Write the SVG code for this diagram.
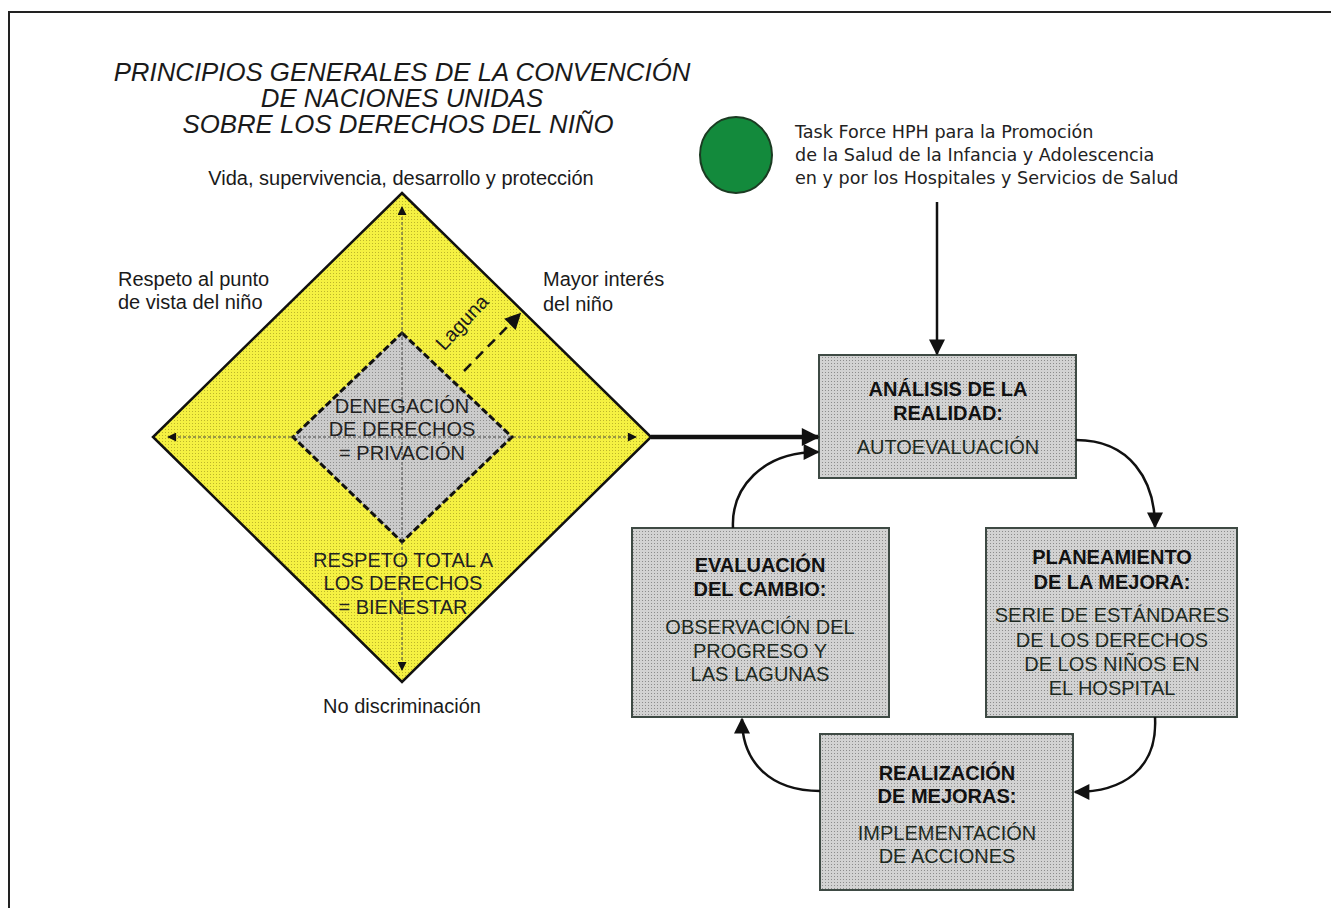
<svg xmlns="http://www.w3.org/2000/svg" width="1331" height="908" viewBox="0 0 1331 908">
<defs>
<style>
.t{font-family:"Liberation Sans",Arial,Helvetica,sans-serif;fill:#1a1a1a}
.title{font-size:25.8px;font-style:italic;text-anchor:middle}
.lbl{font-size:20px}
.mid{text-anchor:middle}
.in{font-size:20px;text-anchor:middle;fill:#222}
.bb{font-size:20px;font-weight:bold;text-anchor:middle;fill:#111}
.br{font-size:20px;text-anchor:middle;fill:#1e2a22}
.box{fill:url(#dotGray);stroke:#3e4a44;stroke-width:2}
.tf{font-family:"DejaVu Sans",sans-serif;font-size:17.6px;fill:#222}
.conn{fill:none;stroke:#111;stroke-width:2.5}
.axis{stroke:#444;stroke-width:1;stroke-dasharray:3 2;fill:none}
</style>
<pattern id="dotGray" width="3" height="3" patternUnits="userSpaceOnUse"><rect width="3" height="3" fill="#d2d2d2"/><rect width="1" height="1" fill="#8c8c8c"/></pattern>
<pattern id="dotInner" width="3" height="3" patternUnits="userSpaceOnUse"><rect width="3" height="3" fill="#cbcbcb"/><rect width="1" height="1" fill="#8e8e8e"/></pattern>
<pattern id="dotYellow" width="3" height="3" patternUnits="userSpaceOnUse"><rect width="3" height="3" fill="#f5f142"/><rect width="1" height="1" fill="#bdb52a"/></pattern>
<marker id="ah" viewBox="0 0 10 10" refX="9" refY="5" markerUnits="userSpaceOnUse" markerWidth="18" markerHeight="16" orient="auto"><path d="M0,0 L10,5 L0,10 z" fill="#111"/></marker>
<marker id="ahBig" viewBox="0 0 10 10" refX="9" refY="5" markerUnits="userSpaceOnUse" markerWidth="22" markerHeight="18" orient="auto"><path d="M0,0 L10,5 L0,10 z" fill="#111"/></marker>
<marker id="ahs" viewBox="0 0 10 10" refX="9" refY="5" markerUnits="userSpaceOnUse" markerWidth="11" markerHeight="9" orient="auto-start-reverse"><path d="M0,0 L10,5 L0,10 z" fill="#111"/></marker>
</defs>
<rect width="1331" height="908" fill="#fff"/>
<path d="M9,908 V12 H1331" fill="none" stroke="#222" stroke-width="2"/>

<g id="title" class="t">
<text class="title" x="402" y="81">PRINCIPIOS GENERALES DE LA CONVENCIÓN</text>
<text class="title" x="402" y="107">DE NACIONES UNIDAS</text>
<text class="title" x="398" y="133">SOBRE LOS DERECHOS DEL NIÑO</text>
</g>

<g id="diamond">
<polygon points="402,193 651,437 402,682 153,437" fill="url(#dotYellow)" stroke="#111" stroke-width="2.5"/>
<polygon points="402,333 512,437 402,542 293,437" fill="url(#dotInner)" stroke="#111" stroke-width="3" stroke-dasharray="7 3"/>
<line class="axis" x1="402" y1="207" x2="402" y2="670" marker-start="url(#ahs)" marker-end="url(#ahs)"/>
<line class="axis" x1="168" y1="437" x2="636" y2="437" marker-start="url(#ahs)" marker-end="url(#ahs)"/>
<line x1="464" y1="371" x2="520" y2="314" stroke="#111" stroke-width="2.5" stroke-dasharray="10 7" marker-end="url(#ah)"/>
<text class="t" font-size="20" text-anchor="middle" transform="translate(467,327) rotate(-47)">Laguna</text>
<text class="t in" x="402" y="413">DENEGACIÓN</text>
<text class="t in" x="402" y="436">DE DERECHOS</text>
<text class="t in" x="402" y="460">= PRIVACIÓN</text>
<text class="t in" x="403" y="567">RESPETO TOTAL A</text>
<text class="t in" x="403" y="590">LOS DERECHOS</text>
<text class="t in" x="403" y="614">= BIENESTAR</text>
</g>

<g id="labels" class="t">
<text class="lbl mid" x="401" y="185">Vida, supervivencia, desarrollo y protección</text>
<text class="lbl" x="118" y="286">Respeto al punto</text>
<text class="lbl" x="118" y="309">de vista del niño</text>
<text class="lbl" x="543" y="286">Mayor interés</text>
<text class="lbl" x="543" y="311">del niño</text>
<text class="lbl mid" x="402" y="713">No discriminación</text>
</g>

<g id="taskforce">
<ellipse cx="736" cy="155" rx="36" ry="38" fill="#138a3c" stroke="#1b3b22" stroke-width="2"/>
<text class="tf" x="795" y="138">Task Force HPH para la Promoción</text>
<text class="tf" x="795" y="161">de la Salud de la Infancia y Adolescencia</text>
<text class="tf" x="795" y="184">en y por los Hospitales y Servicios de Salud</text>
</g>

<g id="analisis">
<rect class="box" x="819" y="355" width="257" height="123"/>
<text class="t bb" x="948" y="396">ANÁLISIS DE LA</text>
<text class="t bb" x="948" y="420">REALIDAD:</text>
<text class="t br" x="948" y="454">AUTOEVALUACIÓN</text>
</g>

<g id="planeamiento">
<rect class="box" x="986" y="528" width="251" height="189"/>
<text class="t bb" x="1112" y="564">PLANEAMIENTO</text>
<text class="t bb" x="1112" y="589">DE LA MEJORA:</text>
<text class="t br" x="1112" y="622">SERIE DE ESTÁNDARES</text>
<text class="t br" x="1112" y="647">DE LOS DERECHOS</text>
<text class="t br" x="1112" y="671">DE LOS NIÑOS EN</text>
<text class="t br" x="1112" y="695">EL HOSPITAL</text>
</g>

<g id="realizacion">
<rect class="box" x="820" y="734" width="253" height="156"/>
<text class="t bb" x="947" y="780">REALIZACIÓN</text>
<text class="t bb" x="947" y="803">DE MEJORAS:</text>
<text class="t br" x="947" y="840">IMPLEMENTACIÓN</text>
<text class="t br" x="947" y="863">DE ACCIONES</text>
</g>

<g id="evaluacion">
<rect class="box" x="632" y="528" width="257" height="189"/>
<text class="t bb" x="760" y="572">EVALUACIÓN</text>
<text class="t bb" x="760" y="596">DEL CAMBIO:</text>
<text class="t br" x="760" y="634">OBSERVACIÓN DEL</text>
<text class="t br" x="760" y="658">PROGRESO Y</text>
<text class="t br" x="760" y="681">LAS LAGUNAS</text>
</g>

<g id="connectors">
<line class="conn" x1="937" y1="202" x2="937" y2="354" marker-end="url(#ah)"/>
<line x1="651" y1="437" x2="818" y2="437" stroke="#111" stroke-width="4.5" marker-end="url(#ahBig)"/>
<path class="conn" d="M1076,440 C1130,440 1155,480 1155,527" marker-end="url(#ah)"/>
<path class="conn" d="M1155,717 C1158,770 1122,792 1075,792" marker-end="url(#ah)"/>
<path class="conn" d="M820,791 C770,791 742,762 742,719" marker-end="url(#ah)"/>
<path class="conn" d="M733,528 C731,488 762,452 818,452" marker-end="url(#ah)"/>
</g>
</svg>
